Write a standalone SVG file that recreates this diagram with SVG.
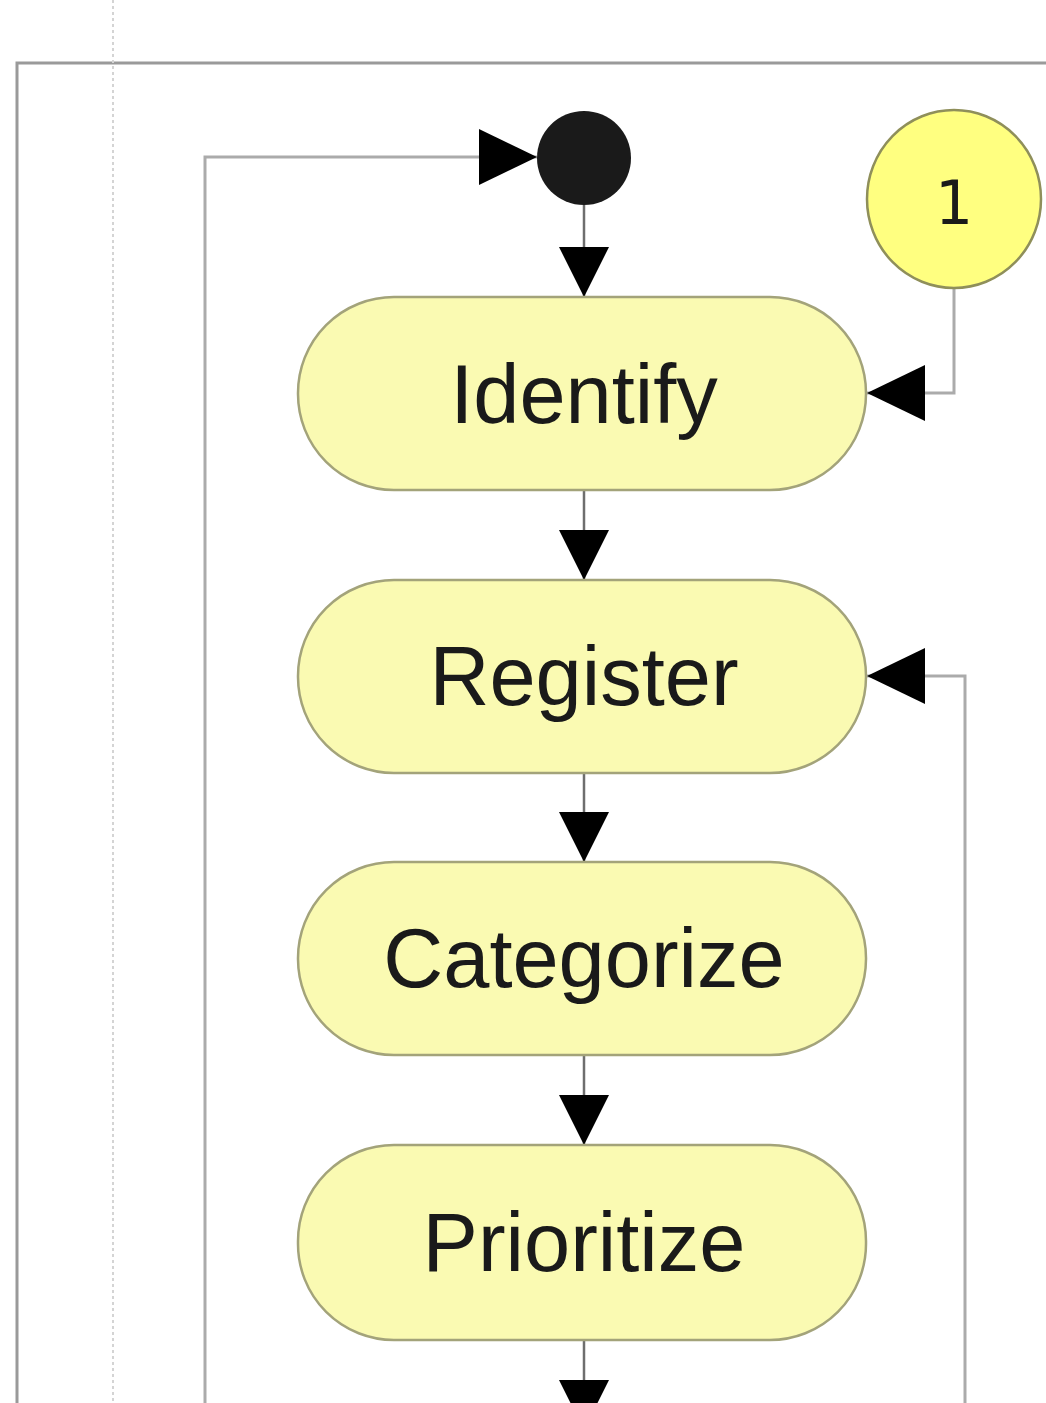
<svg xmlns="http://www.w3.org/2000/svg" width="1046" height="1403" viewBox="0 0 1046 1403">
  <style>
    .node { fill: #fafab2; stroke: #a3a37a; stroke-width: 2.5; }
    .label { font-family: "Liberation Sans", Arial, sans-serif; font-size: 83px; fill: #1a1a1a; text-anchor: middle; }
    .flow { fill: none; stroke: #6e6e6e; stroke-width: 2.5; }
    .loop { fill: none; stroke: #ababab; stroke-width: 3; }
    .frame { fill: none; stroke: #9a9a9a; stroke-width: 3; }
  </style>
  <defs>
    <marker id="arrow" viewBox="0 0 50 50" refX="50" refY="25" markerWidth="50" markerHeight="50" markerUnits="userSpaceOnUse" orient="auto">
      <path d="M0,0 L50,25 L0,50 Z" fill="#000"/>
    </marker>
    <marker id="arrowWide" viewBox="0 0 58 56" refX="58" refY="28" markerWidth="58" markerHeight="56" markerUnits="userSpaceOnUse" orient="auto">
      <path d="M0,0 L58,28 L0,56 Z" fill="#000"/>
    </marker>
  </defs>

  <rect width="1046" height="1403" fill="#ffffff"/>

  <!-- swimlane frame and lane divider -->
  <path class="frame" d="M17,1403 V63 H1046"/>
  <line x1="113" y1="0" x2="113" y2="1403" stroke="#d4d4d4" stroke-width="2" stroke-dasharray="3,3"/>

  <!-- connectors -->
  <g id="connectors">
    <path class="loop" d="M205,1403 V157 H537" marker-end="url(#arrowWide)"/>
    <path class="flow" d="M584,205 V297" marker-end="url(#arrow)"/>
    <path class="flow" d="M584,490 V580" marker-end="url(#arrow)"/>
    <path class="flow" d="M584,773 V862" marker-end="url(#arrow)"/>
    <path class="flow" d="M584,1055 V1145" marker-end="url(#arrow)"/>
    <path class="flow" d="M584,1340 V1430" marker-end="url(#arrow)"/>
    <path class="loop" d="M954,288 V393 H867" marker-end="url(#arrowWide)"/>
    <path class="loop" d="M965,1403 V676 H867" marker-end="url(#arrowWide)"/>
  </g>

  <!-- start -->
  <g id="start">
    <circle cx="584" cy="158" r="47" fill="#1a1a1a"/>
  </g>

  <!-- connector reference 1 -->
  <g id="ref1">
    <ellipse cx="954" cy="199" rx="87" ry="89" fill="#ffff80" stroke="#8f8f5a" stroke-width="2.5"/>
    <text x="954" y="224" font-family="DejaVu Sans, sans-serif" font-size="60" fill="#1a1a1a" text-anchor="middle">1</text>
  </g>

  <g id="identify">
    <rect class="node" x="298" y="297" width="568" height="193" rx="96"/>
    <text class="label" x="584" y="423">Identify</text>
  </g>

  <g id="register">
    <rect class="node" x="298" y="580" width="568" height="193" rx="96"/>
    <text class="label" x="584" y="705">Register</text>
  </g>

  <g id="categorize">
    <rect class="node" x="298" y="862" width="568" height="193" rx="96"/>
    <text class="label" x="584" y="987">Categorize</text>
  </g>

  <g id="prioritize">
    <rect class="node" x="298" y="1145" width="568" height="195" rx="96"/>
    <text class="label" x="584" y="1271">Prioritize</text>
  </g>
</svg>
